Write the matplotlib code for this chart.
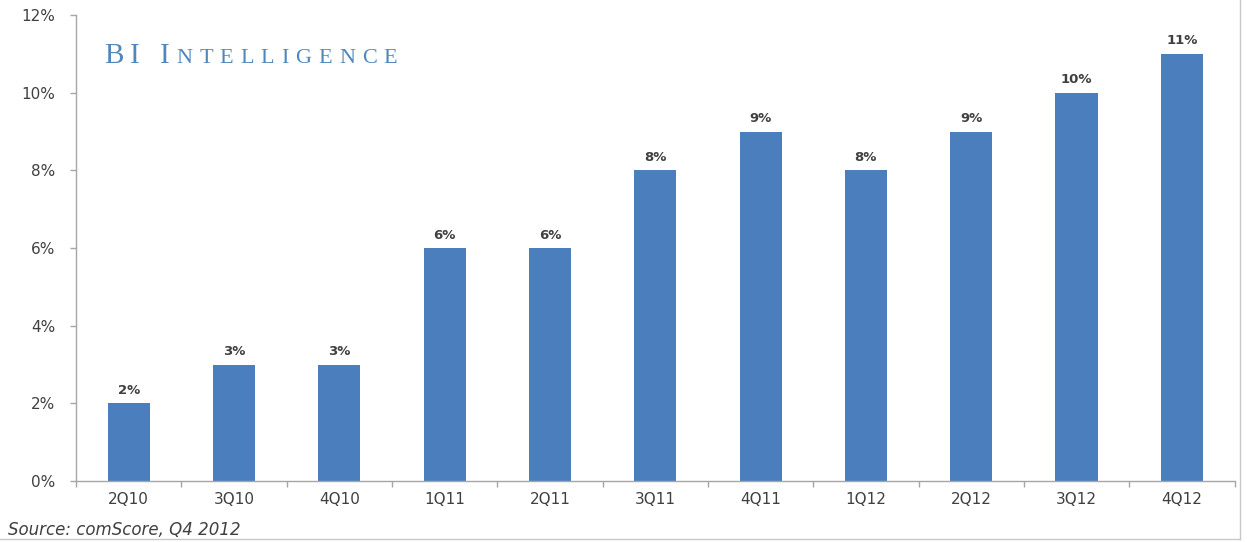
import matplotlib
matplotlib.use("Agg")
import matplotlib.pyplot as plt
import numpy as np
from matplotlib.offsetbox import TextArea, HPacker, AnchoredOffsetbox

# Share of quarters, values in percent
quarters = ["2Q10", "3Q10", "4Q10", "1Q11", "2Q11", "3Q11",
            "4Q11", "1Q12", "2Q12", "3Q12", "4Q12"]
share = [2, 3, 3, 6, 6, 8, 9, 8, 9, 10, 11]
yticks = [0, 2, 4, 6, 8, 10, 12]

BAR = "#4a7ebd"
GRID = "#a6a6a6"
TXT = "#404040"
FONT = "DejaVu Sans"

fig = plt.figure(figsize=(12.47, 5.42), dpi=100)
ax = fig.add_axes([0.061, 0.1125, 0.929, 0.8595])

x = np.arange(len(quarters))
ax.bar(x, share, width=0.4, color=BAR, zorder=2)
for xi, v in zip(x, share):
    ax.text(xi, v + 0.17, f"{v}%", ha="center", va="bottom",
            fontsize=9.5, fontweight="bold", color=TXT, family=FONT)

ax.set_xlim(-0.5, len(quarters) - 0.5)
ax.set_ylim(0, 12)
ax.set_yticks(yticks)
ax.set_yticklabels([f"{t}%" for t in yticks])
ax.set_xticks(x)
ax.set_xticklabels(quarters)
ax.set_xticks(np.arange(-0.5, len(quarters)), minor=True)

for s in ["top", "right"]:
    ax.spines[s].set_visible(False)
for s in ["left", "bottom"]:
    ax.spines[s].set_color(GRID)
    ax.spines[s].set_linewidth(1.0)

ax.tick_params(axis="y", colors=GRID, labelcolor=TXT, labelsize=11,
               length=4, width=1, pad=11)
ax.tick_params(axis="x", which="major", length=0, labelcolor=TXT,
               labelsize=11, pad=8)
ax.tick_params(axis="x", which="minor", length=4, width=1, colors=GRID)
for lab in ax.get_xticklabels() + ax.get_yticklabels():
    lab.set_family(FONT)

# small-caps style brand title, letter-spaced
title_text = "BI INTELLIGENCE"
big = {0, 1, 3}
boxes = []
for i, ch in enumerate(title_text):
    size = 21 if i in big else 16
    boxes.append(TextArea(ch, textprops=dict(fontsize=size, color="#5187bb",
                                             family="Liberation Serif")))
title = HPacker(children=boxes, align="baseline", pad=0, sep=5)
anch = AnchoredOffsetbox(loc="upper left", child=title, frameon=False,
                         bbox_to_anchor=(104 / 1247, 1 - 43 / 542),
                         bbox_transform=fig.transFigure, borderpad=0, pad=0)
fig.add_artist(anch)

fig.text(8 / 1247, 1 - 530 / 542, "Source: comScore, Q4 2012", fontsize=12,
         style="italic", color=TXT, family=FONT, va="center")

# thin frame at the bottom and right edge
fig.add_artist(plt.Line2D([0, 1240 / 1247], [1 - 539 / 542] * 2,
                          transform=fig.transFigure, color="#c8c8c8", lw=1))
fig.add_artist(plt.Line2D([1240 / 1247] * 2, [1 - 539 / 542, 1],
                          transform=fig.transFigure, color="#c8c8c8", lw=1))

fig.savefig("out.png", dpi=100)
